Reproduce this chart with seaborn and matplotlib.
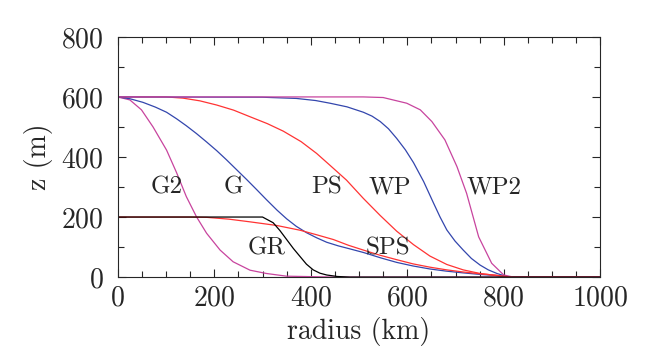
import matplotlib
matplotlib.use("Agg")
import matplotlib.pyplot as plt
import seaborn as sns
from matplotlib.ticker import MultipleLocator

# radius (km) and height z (m)
g2_r = [0, 25, 49, 73, 101, 122, 142, 163, 184, 212, 239, 274, 308, 350, 450, 1000]
g2_z = [600, 590, 557, 500, 423, 347, 268, 201, 146, 90, 51, 23, 12, 3, 0, 0]

g_r = [0, 25, 52, 78, 101, 122, 142, 163, 184, 205, 225, 246, 267, 288, 308, 330, 350, 370, 391, 412, 433, 457, 481, 509, 545, 578, 612, 647, 680, 716, 750, 786, 810, 1000]
g_z = [600, 594, 582, 566, 549, 527, 504, 478, 450, 421, 391, 358, 325, 291, 258, 223, 194, 169, 148, 131, 116, 104, 94, 82, 64, 49, 37, 27, 20, 14, 9, 5, 0, 0]

ps_r = [0, 100, 135, 170, 205, 240, 274, 310, 343, 380, 412, 440, 474, 509, 544, 578, 613, 647, 682, 716, 751, 786, 810, 1000]
ps_z = [600, 600, 596, 587, 573, 556, 534, 511, 486, 451, 412, 372, 323, 262, 205, 153, 108, 70, 42, 24, 12, 5, 0, 0]

wp_r = [0, 300, 370, 410, 440, 475, 509, 527, 544, 561, 578, 596, 613, 634, 654, 668, 682, 699, 716, 733, 751, 768, 786, 810, 1000]
wp_z = [600, 599, 595, 588, 579, 567, 549, 536, 518, 494, 462, 424, 381, 318, 248, 200, 157, 120, 90, 62, 40, 24, 12, 0, 0]

wp2_r = [0, 450, 509, 550, 599, 627, 651, 678, 703, 723, 748, 775, 800, 820, 1000]
wp2_z = [600, 600, 600, 598, 579, 557, 518, 457, 368, 279, 134, 46, 7, 0, 0]

sps_r = [0, 150, 184, 230, 274, 329, 378, 412, 447, 478, 509, 543, 578, 612, 647, 682, 716, 751, 786, 815, 1000]
sps_z = [200, 200, 199, 193, 184, 172, 156, 141, 125, 106, 90, 73, 58, 44, 33, 24, 17, 11, 6, 0, 0]

gr_r = [0, 300, 322, 336, 350, 364, 378, 391, 405, 419, 433, 455, 481, 1000]
gr_z = [200, 200, 181, 155, 125, 95, 68, 43, 24, 13, 7, 2, 0, 0]

curves = [
    (g2_r, g2_z, "#c8449e"),
    (g_r, g_z, "#3346ad"),
    (ps_r, ps_z, "#ff3333"),
    (wp_r, wp_z, "#3346ad"),
    (wp2_r, wp2_z, "#c8449e"),
    (sps_r, sps_z, "#ff3333"),
    (gr_r, gr_z, "black"),
]

labels = ["G2", "G", "PS", "WP", "WP2", "GR", "SPS"]
label_r = [102, 239, 432, 564, 780, 309, 560]
label_z = [297, 297, 297, 297, 297, 95, 95]

sns.set_style("ticks")
plt.rcParams["font.family"] = "cmr10"
plt.rcParams["axes.formatter.use_mathtext"] = True
plt.rcParams["mathtext.fontset"] = "cm"

fig = plt.figure(figsize=(6.51, 3.58), dpi=100)
ax = fig.add_axes([0.181, 0.226, 0.741, 0.671])

for r, z, c in curves:
    sns.lineplot(x=r, y=z, color=c, linewidth=0.9, sort=False, ax=ax)

for txt, r, z in zip(labels, label_r, label_z):
    ax.text(r, z, txt, ha="center", va="center", fontsize=18)

ax.set_xlim(0, 1000)
ax.set_ylim(0, 800)
ax.xaxis.set_major_locator(MultipleLocator(200))
ax.xaxis.set_minor_locator(MultipleLocator(50))
ax.yaxis.set_major_locator(MultipleLocator(200))
ax.yaxis.set_minor_locator(MultipleLocator(100))
ax.tick_params(which="both", direction="in", top=True, right=True, labelsize=20, width=0.8)
ax.tick_params(axis="x", which="major", pad=6)
ax.tick_params(axis="y", which="major", pad=10)
ax.tick_params(which="major", length=6)
ax.tick_params(which="minor", length=4)
for s in ax.spines.values():
    s.set_linewidth(0.8)
ax.set_xlabel("radius (km)", fontsize=20, labelpad=4)
ax.set_ylabel("z (m)", fontsize=20, labelpad=6)

fig.savefig("out.png", dpi=100)
